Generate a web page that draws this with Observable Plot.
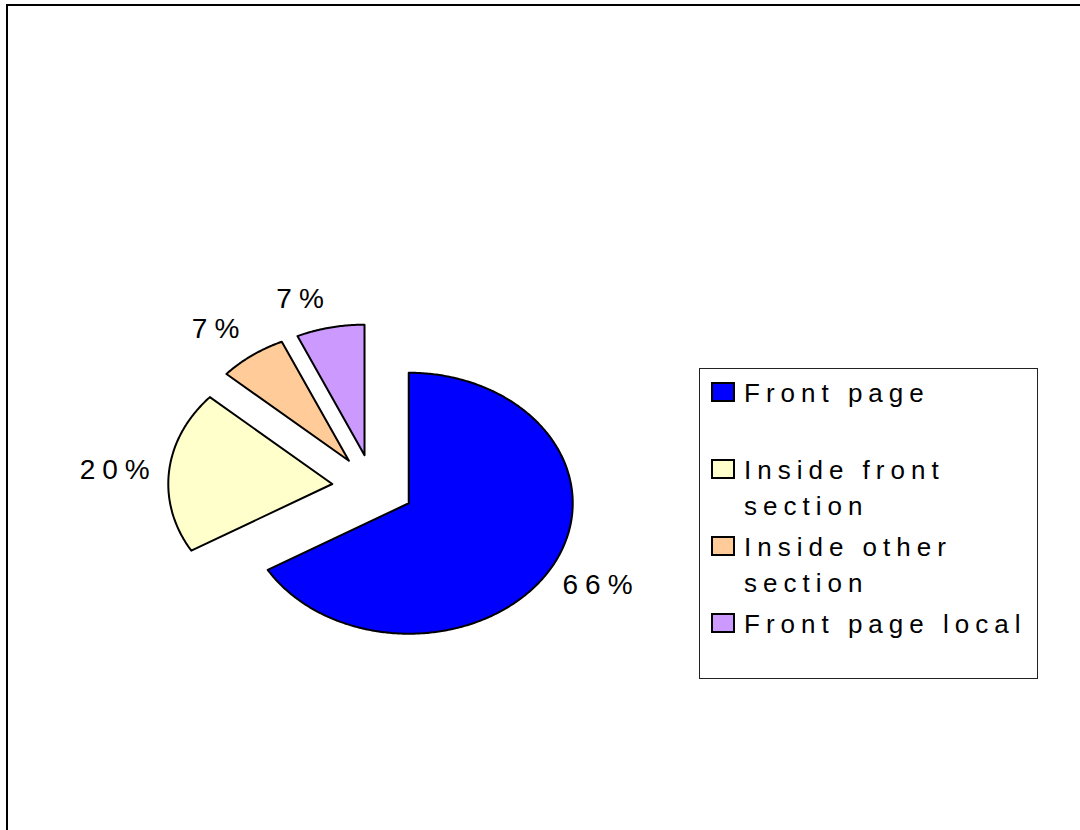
<!DOCTYPE html>
<html>
<head>
<meta charset="utf-8">
<script src="https://cdn.jsdelivr.net/npm/d3@7"></script>
<script src="https://cdn.jsdelivr.net/npm/@observablehq/plot@0.6"></script>
<style>
html, body { margin: 0; padding: 0; background: #fff; overflow: hidden; }
#wrap { position: relative; width: 1080px; height: 830px; overflow: hidden; font-family: "Liberation Sans", Arial, sans-serif; }
#frame { position: absolute; left: 6px; top: 4px; width: 1200px; height: 1000px; border: 2px solid #000; box-sizing: border-box; }
#chart { position: absolute; left: 0; top: 0; }
#legend { position: absolute; left: 699px; top: 368px; width: 339px; height: 311px; border: 1px solid #222; box-sizing: border-box; background: #fff; padding-top: 6px; }
.item { position: relative; height: 77px; }
.sw { position: absolute; left: 11px; top: 7px; width: 24px; height: 20px; border: 2px solid #000; box-sizing: border-box; }
.lab { position: absolute; left: 44px; top: 0; font-size: 26px; line-height: 36px; letter-spacing: 6px; white-space: nowrap; color: #000; }
</style>
</head>
<body>
<div id="wrap">
  <div id="frame"></div>
  <div id="chart"></div>
  <div id="legend"></div>
</div>
<script>
// ---- data ----
const categories = ["Front page", "Inside front section", "Inside other section", "Front page local"];
const legendLines = [["Front page"], ["Inside front", "section"], ["Inside other", "section"], ["Front page local"]];
const shares = [66.4, 20.1, 6.7, 6.7];
// ---- styles ----
const colors = ["#0000FF", "#FFFFCC", "#FFCC99", "#CC99FF"];

// ---- layout ----
const W = 1080, H = 830;
const CX = 372.6, CY = 486.6, RX = 164, RY = 130.5;
const EXPLODE = 0.25;
const LABEL_R = 1.1;

const total = d3.sum(shares);
let acc = 0;
const slices = categories.map((name, i) => {
  const a0 = acc / total * 2 * Math.PI;
  acc += shares[i];
  const a1 = acc / total * 2 * Math.PI;
  const m = (a0 + a1) / 2;
  const ox = EXPLODE * Math.sin(m), oy = EXPLODE * Math.cos(m);
  const pts = [{u: ox, v: oy}];
  const n = Math.max(8, Math.ceil((a1 - a0) / 0.01));
  for (let k = 0; k <= n; k++) {
    const t = a0 + (a1 - a0) * k / n;
    pts.push({u: ox + Math.sin(t), v: oy + Math.cos(t)});
  }
  const lu = ox + LABEL_R * Math.sin(m), lv = oy + LABEL_R * Math.cos(m);
  const px = RX * Math.sin(m), py = -RY * Math.cos(m);
  const len = Math.hypot(px, py);
  const dxn = px / len, dyn = py / len;
  return {
    name, color: colors[i], pts,
    label: {u: lu, v: lv, text: Math.round(shares[i]) + "%"},
    textAnchor: dxn < 0 ? "end" : "start",
    lineAnchor: dyn < -0.35 ? "bottom" : (dyn > 0.35 ? "top" : "middle")
  };
});

const marks = [];
slices.forEach(s => {
  marks.push(Plot.line(s.pts, {x: "u", y: "v", fill: s.color, stroke: "#000", strokeWidth: 2, curve: "linear-closed"}));
});
slices.forEach(s => {
  marks.push(Plot.text([s.label], {
    x: "u", y: "v", text: "text",
    textAnchor: s.textAnchor, lineAnchor: s.lineAnchor,
    dx: s.textAnchor === "end" ? 4 : -3,
    dy: s.lineAnchor === "bottom" ? -7 : 0,
    fontSize: 28, fontFamily: "Liberation Sans, Arial, sans-serif", fill: "#000"
  }));
});

const plot = Plot.plot({
  width: W, height: H,
  margin: 0,
  x: {domain: [(0 - CX) / RX, (W - CX) / RX], axis: null},
  y: {domain: [(CY - H) / RY, CY / RY], axis: null},
  style: {background: "transparent", letterSpacing: "7px", overflow: "visible"},
  marks
});
document.getElementById("chart").appendChild(plot);

// ---- legend ----
const legend = document.getElementById("legend");
categories.forEach((name, i) => {
  const item = document.createElement("div");
  item.className = "item";
  const sw = document.createElement("div");
  sw.className = "sw";
  sw.style.background = colors[i];
  const lab = document.createElement("div");
  lab.className = "lab";
  lab.innerHTML = legendLines[i].join("<br>");
  item.appendChild(sw);
  item.appendChild(lab);
  legend.appendChild(item);
});
</script>
</body>
</html>
